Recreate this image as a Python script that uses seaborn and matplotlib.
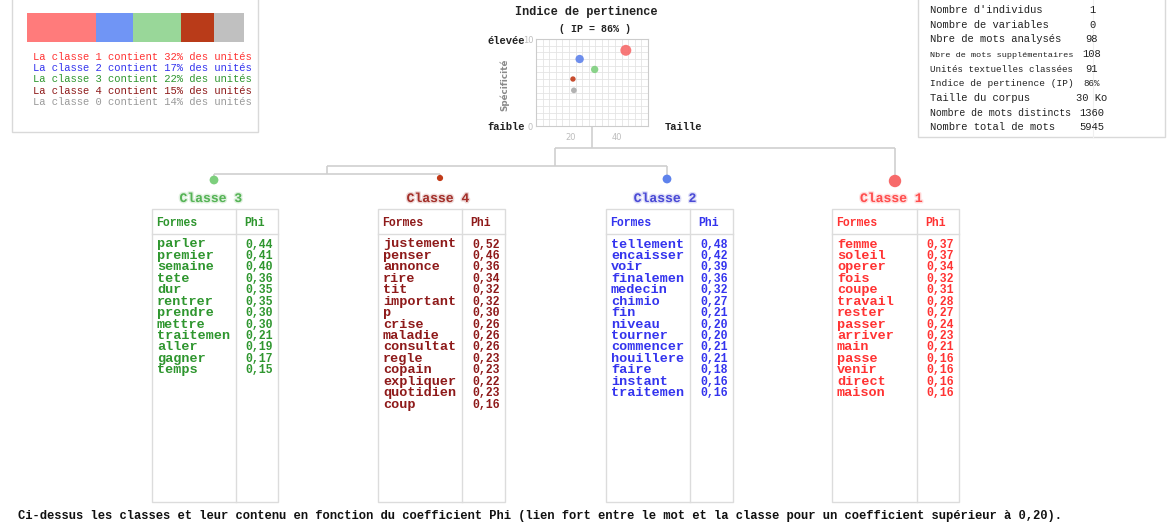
import numpy as np
import pandas as pd
import matplotlib
matplotlib.use("Agg")
import matplotlib.pyplot as plt
import matplotlib.patheffects as pe
from matplotlib.patches import Rectangle
import seaborn as sns

# ====== DONNEES ======
classes = ["Classe 1", "Classe 2", "Classe 3", "Classe 4", "Classe 0"]
pourcentages = [32, 17, 22, 15, 14]

# indice de pertinence (taille, specificite)
taille = [43.9, 23.9, 30.4, 21.0, 21.4]
specificite = [8.7, 7.7, 6.5, 5.4, 4.1]

stats_labels = ["Nombre d'individus", "Nombre de variables", "Nbre de mots analysés",
                "Nbre de mots supplémentaires", "Unités textuelles classées",
                "Indice de pertinence (IP)", "Taille du corpus",
                "Nombre de mots distincts", "Nombre total de mots"]
stats_values = ["1", "0", "98", "108", "91", "86%", "30 Ko", "1360", "5945"]

mots_c3 = ["parler", "premier", "semaine", "tete", "dur", "rentrer", "prendre",
           "mettre", "traitemen", "aller", "gagner", "temps"]
phi_c3 = [0.44, 0.41, 0.40, 0.36, 0.35, 0.35, 0.30, 0.30, 0.21, 0.19, 0.17, 0.15]

mots_c4 = ["justement", "penser", "annonce", "rire", "tit", "important", "p", "crise",
           "maladie", "consultat", "regle", "copain", "expliquer", "quotidien", "coup"]
phi_c4 = [0.52, 0.46, 0.36, 0.34, 0.32, 0.32, 0.30, 0.26, 0.26, 0.26, 0.23, 0.23,
          0.22, 0.23, 0.16]

mots_c2 = ["tellement", "encaisser", "voir", "finalemen", "medecin", "chimio", "fin",
           "niveau", "tourner", "commencer", "houillere", "faire", "instant", "traitemen"]
phi_c2 = [0.48, 0.42, 0.39, 0.36, 0.32, 0.27, 0.21, 0.20, 0.20, 0.21, 0.21, 0.18,
          0.16, 0.16]

mots_c1 = ["femme", "soleil", "operer", "fois", "coupe", "travail", "rester", "passer",
           "arriver", "main", "passe", "venir", "direct", "maison"]
phi_c1 = [0.37, 0.37, 0.34, 0.32, 0.31, 0.28, 0.27, 0.24, 0.23, 0.21, 0.16, 0.16,
          0.16, 0.16]

# ====== STYLE ======
bar_colors = {"Classe 1": "#ff7b7b", "Classe 2": "#7095f5", "Classe 3": "#99d799",
              "Classe 4": "#b93b19", "Classe 0": "#c0c0c0"}
dot_colors = {"Classe 1": "#f76a6a", "Classe 2": "#5e82ec", "Classe 3": "#7dcf7d",
              "Classe 4": "#c23a18", "Classe 0": "#aaaaaa"}
text_colors = {"Classe 1": "#ff3333", "Classe 2": "#3434ee", "Classe 3": "#2f962f",
               "Classe 4": "#8e1a1a", "Classe 0": "#9a9a9a"}
title_colors = {"Classe 1": "#ff4d4d", "Classe 2": "#4a4ad6", "Classe 3": "#55b355",
                "Classe 4": "#a3302a"}
MONO = "Liberation Mono"
LINE = "#cfcfcf"
W, H = 1170, 522

fig = plt.figure(figsize=(W / 100, H / 100), dpi=100)
fig.patch.set_facecolor("white")

# axe principal en pixels
ax = fig.add_axes([0, 0, 1, 1])
ax.set_xlim(0, W)
ax.set_ylim(H, 0)
ax.axis("off")


def inset(x0, y0, x1, y1):
    return fig.add_axes([x0 / W, 1 - y1 / H, (x1 - x0) / W, (y1 - y0) / H])


# --- cadre de gauche : repartition des classes ---
ax.add_patch(Rectangle((12, -3), 246, 135, fill=False, ec="#d9d9d9", lw=1))
bax = inset(26.7, 13.3, 244, 41.7)
lefts = np.concatenate([[0], np.cumsum(pourcentages)[:-1]])
bax.barh([0] * len(classes), pourcentages, left=lefts, height=1,
         color=[bar_colors[c] for c in classes], edgecolor="none")
bax.set_xlim(0, sum(pourcentages))
bax.set_ylim(-0.5, 0.5)
bax.axis("off")

for i, (c, p) in enumerate(zip(classes, pourcentages)):
    num = c.split()[1]
    ax.text(33, 60 + i * 11.25, f"La classe {num} contient {p}% des unités",
            family=MONO, fontsize=7.6, color=text_colors[c], va="baseline")

# --- cadre de droite : statistiques ---
ax.add_patch(Rectangle((918, -3), 247, 140, fill=False, ec="#d9d9d9", lw=1))
ax.plot([1093, 1093], [-3, 137], color="#f0f0f0", lw=0.8)
for i, (lab, val) in enumerate(zip(stats_labels, stats_values)):
    y = 13 + i * 14.67
    # les libelles longs sont reduits pour ne pas chevaucher la valeur
    fs = min(7.6, 142 / (len(lab) * 0.6 * 100 / 72))
    ax.text(930, y, lab, family=MONO, fontsize=fs, color="#222222", va="baseline")
    ax.text(1092, y, val, family=MONO, fontsize=6.6 if "%" in val else 7.6,
            color="#222222", va="baseline", ha="center")

# --- indice de pertinence ---
ax.text(586.5, 15, "Indice de pertinence", family=MONO, fontsize=8.6,
        fontweight="bold", ha="center", va="baseline", color="#222222")
ax.text(595, 32, "( IP = 86% )", family=MONO, fontsize=7.2, fontweight="bold",
        ha="center", va="baseline", color="#222222")
ax.text(487, 44, "élevée", family=MONO, fontsize=7.6, fontweight="bold",
        va="baseline", color="#222222")
ax.text(487, 129.5, "faible", family=MONO, fontsize=7.6, fontweight="bold",
        va="baseline", color="#222222")
ax.text(665, 129.5, "Taille", family=MONO, fontsize=7.6, fontweight="bold",
        va="baseline", color="#222222")
ax.text(505, 85, "Spécificité", fontsize=6.3, fontweight="bold", rotation=90,
        ha="center", va="center", color="#8a8a8a")

sax = inset(536, 39, 648, 126)
df_ip = pd.DataFrame({"classe": classes, "taille": taille,
                      "specificite": specificite, "pct": pourcentages})
sns.scatterplot(data=df_ip, x="taille", y="specificite", hue="classe",
                palette=dot_colors, size="classe",
                sizes={"Classe 1": 62, "Classe 2": 36, "Classe 3": 28,
                       "Classe 4": 15, "Classe 0": 17},
                edgecolor="none", alpha=0.9, legend=False, ax=sax, zorder=3)
sax.set_xlim(5, 53.5)
sax.set_ylim(0, 10)
sax.set_xticks([20, 40])
sax.set_yticks([0, 10])
sax.set_xticks(np.linspace(5, 53.5, 18), minor=True)
sax.set_yticks(np.linspace(0, 10, 14), minor=True)
sax.grid(which="minor", color="#e4e4e4", lw=0.6)
sax.tick_params(which="both", length=0, labelsize=6, labelcolor="#bdbdbd", pad=2)
sax.tick_params(axis="x", pad=5)
sax.set_xlabel("")
sax.set_ylabel("")
for s in sax.spines.values():
    s.set_color("#cccccc")
    s.set_linewidth(0.8)

# --- dendrogramme ---
segments = [
    ([592, 592], [126, 148]),
    ([555, 895], [148, 148]),
    ([555, 555], [148, 166]),
    ([895, 895], [148, 181]),
    ([327, 667], [166, 166]),
    ([327, 327], [166, 174]),
    ([667, 667], [166, 179]),
    ([214, 440], [174, 174]),
    ([214, 214], [174, 180]),
    ([440, 440], [174, 178]),
]
for xs, ys in segments:
    ax.plot(xs, ys, color=LINE, lw=1.2, solid_capstyle="butt", zorder=1)

nodes = {"Classe 3": (214, 180, 40), "Classe 4": (440, 178, 20),
         "Classe 2": (667, 179, 40), "Classe 1": (895, 181, 80)}
for c, (x, y, s) in nodes.items():
    ax.scatter([x], [y], s=s, color=dot_colors[c], edgecolor="none", zorder=2)

# --- tableaux des classes ---
tables = [
    ("Classe 3", mots_c3, phi_c3, 152, 236, 278, 210.5),
    ("Classe 4", mots_c4, phi_c4, 378, 462, 505, 437.6),
    ("Classe 2", mots_c2, phi_c2, 606, 690, 733, 664.7),
    ("Classe 1", mots_c1, phi_c1, 832, 917, 959, 891),
]
for nom, mots, phis, x0, xd, x1, xt in tables:
    col = text_colors[nom]
    ax.text(xt, 202, nom, family=MONO, fontsize=9.4, fontweight="bold",
            color=title_colors[nom], ha="center", va="baseline",
            path_effects=[pe.withStroke(linewidth=2, foreground=title_colors[nom],
                                        alpha=0.18)])
    ax.add_patch(Rectangle((x0, 209), x1 - x0, 293, fill=False, ec="#dcdcdc", lw=1))
    ax.plot([xd, xd], [209, 502], color="#dcdcdc", lw=1)
    ax.plot([x0, x1], [234, 234], color="#dcdcdc", lw=1)
    ax.text(x0 + 4, 226.5, "Formes", family=MONO, fontsize=8.3, fontweight="bold",
            color=col, va="baseline")
    ax.text(xd + 8.5, 226.5, "Phi", family=MONO, fontsize=8.3, fontweight="bold",
            color=col, va="baseline")
    for i, (m, v) in enumerate(zip(mots, phis)):
        y = 247.5 + i * 11.43
        ax.text(x0 + 5, y, m, family=MONO, fontsize=9.7, fontweight="bold",
                color=col, va="baseline")
        ax.text(x1 - 5, y, f"{v:.2f}".replace(".", ","), family=MONO, fontsize=8.3,
                fontweight="bold", color=col, va="baseline", ha="right")

# --- note ---
ax.text(18, 518.5, "Ci-dessus les classes et leur contenu en fonction du coefficient Phi "
        "(lien fort entre le mot et la classe pour un coefficient supérieur à 0,20).",
        family=MONO, fontsize=8.7, fontweight="bold", color="#111111", va="baseline")

fig.savefig("out.png", dpi=100, facecolor="white")
